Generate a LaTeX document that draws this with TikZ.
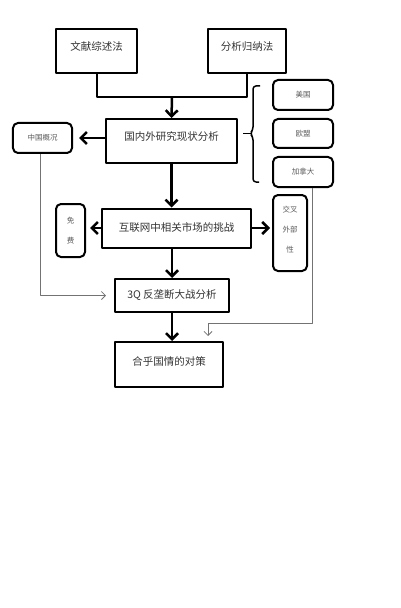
\documentclass[tikz,border=0pt]{standalone}
\usepackage{fontspec}
\newfontfamily\cjk{Noto Sans CJK SC}
\usepackage{tikz}
\usetikzlibrary{arrows.meta,shapes}

\begin{document}
\begin{tikzpicture}[>={Straight Barb[length=6bp,width=12bp]},line join=bevel,x=1bp,y=-1bp,
  mainbox/.style={draw,line width=2bp,inner sep=0pt,text=textcol,font=\cjk\fontsize{10.5bp}{12bp}\selectfont},
  sidebox/.style={draw,line width=2bp,rounded corners=5bp,inner sep=0pt,align=center,text=sidecol,font=\cjk\fontsize{7.5bp}{20bp}\selectfont},
  mainedge/.style={->,line width=2.5bp},
  thinedge/.style={-{Straight Barb[length=4bp,width=8bp]},line width=0.8bp,draw=thincol},
]
  \pgfsetlinewidth{2bp}
\definecolor{textcol}{rgb}{0.2,0.2,0.2}
\definecolor{sidecol}{rgb}{0.35,0.35,0.35}
\definecolor{thincol}{rgb}{0.45,0.45,0.45}
\useasboundingbox (0,0) rectangle (400,608);
%%
  % Node: wenxian
  \node[mainbox,minimum width=81bp,minimum height=44bp,text depth=10bp] (wenxian) at (96.5,51) {文献综述法};
  % Node: fenxi
  \node[mainbox,minimum width=78bp,minimum height=44bp,text depth=10bp] (fenxi) at (247,51) {分析归纳法};
  % Node: guonei
  \node[mainbox,minimum width=131bp,minimum height=44bp,text depth=10bp] (guonei) at (171.5,141) {国内外研究现状分析};
  % Node: hulian
  \node[mainbox,minimum width=149bp,minimum height=39bp] (hulian) at (176.5,228) {互联网中相关市场的挑战};
  % Node: sanq
  \node[mainbox,minimum width=114bp,minimum height=33bp] (sanq) at (172,295.5) {3Q 反垄断大战分析};
  % Node: hehu
  \node[mainbox,minimum width=108bp,minimum height=45bp,text depth=6bp] (hehu) at (169,364.5) {合乎国情的对策};
  % Node: zhongguo
  \node[sidebox,minimum width=59bp,minimum height=30bp] (zhongguo) at (42.5,138) {中国概况};
  % Node: meiguo
  \node[sidebox,minimum width=60bp,minimum height=30bp] (meiguo) at (303,95) {美国};
  % Node: oumeng
  \node[sidebox,minimum width=60bp,minimum height=29bp] (oumeng) at (303,133.5) {欧盟};
  % Node: jianada
  \node[sidebox,minimum width=60bp,minimum height=30bp] (jianada) at (303,172) {加拿大};
  % Node: mianfei
  \node[sidebox,minimum width=29bp,minimum height=53bp] (mianfei) at (70.5,230.5) {免\\费};
  % Node: jiaocha
  \node[sidebox,minimum width=34bp,minimum height=76bp,text depth=8bp] (jiaocha) at (290,233) {交叉\\外部\\性};
  % Coordinates
  \coordinate (join) at (172,97);
  \coordinate (turn) at (208,323);
  \coordinate (bracetop) at (260,86);
  \coordinate (bracebot) at (259,182);
  \coordinate (bracetip) at (243,133.5);
  % Edge: wenxian, fenxi -> guonei
  \draw (wenxian.south) |- (join) -| (fenxi.south);
  \draw[mainedge] (join) -- (guonei.north);
  % Edge: guonei -> zhongguo
  \draw[mainedge,shorten >=6bp] (guonei.west |- zhongguo) -- (zhongguo.east);
  % Edge: guonei -> hulian
  \draw[mainedge] (guonei.south) -- (guonei.south |- hulian.north);
  % Edge: hulian -> mianfei
  \draw[mainedge,shorten >=4bp] (hulian.west) -- (hulian.west -| mianfei.east);
  % Edge: hulian -> jiaocha
  \draw[mainedge,shorten >=2bp] (hulian.east) -- (hulian.east -| jiaocha.west);
  % Edge: hulian -> sanq
  \draw[mainedge] (sanq |- hulian.south) -- (sanq.north);
  % Edge: sanq -> hehu
  \draw[mainedge] (sanq.south) -- (sanq.south |- hehu.north);
  % Edge: zhongguo -> sanq
  \draw[thinedge,shorten >=8bp] ([xshift=-2bp]zhongguo.south) |- (sanq.west);
  % Edge: jianada -> hehu
  \draw[thinedge,shorten >=5bp] ([xshift=9bp]jianada.south) |- (turn) -- (turn |- hehu.north);
  % Brace: meiguo, oumeng, jianada
  \draw[line width=1.5bp,rounded corners=3bp] (bracetop) -- (253,86) -- (253,130) -- (250,133.5) -- (253,137) -- (253,182) -- (bracebot);
  \draw[line width=1.5bp] (bracetip) -- (251,133.5);
%
\end{tikzpicture}
\end{document}
